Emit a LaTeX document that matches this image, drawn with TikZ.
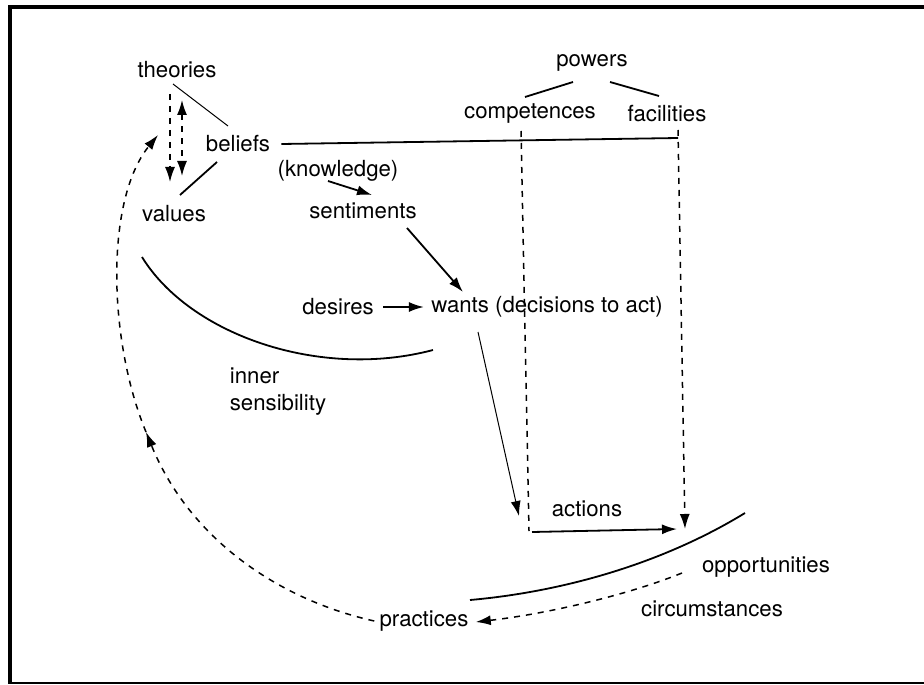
\documentclass[tikz,border=0pt]{standalone}
\usepackage{fontspec}
\setmainfont{TeX Gyre Heros}
\usepackage{tikz}
\usetikzlibrary{shapes,arrows,arrows.meta,calc}
\tikzstyle{word} = [inner sep=0pt, font=\fontsize{11.1}{13.5}\selectfont]
\tikzstyle{link} = [line width=0.9pt]
\tikzstyle{thinlink} = [line width=0.5pt]
\tikzstyle{dashlink} = [line width=0.75pt, dash pattern=on 3pt off 3pt]

\begin{document}
\begin{tikzpicture}[x=0.5pt, y=-0.5pt, >={Latex[length=7.5pt,width=5pt]}]
		\useasboundingbox (0,0) rectangle (924,684);
		% frame
		\draw [line width=2pt] (924,7) -- (10,7) -- (10,684);
		\draw [line width=0.7pt] (10,683) -- (924,683);

		\node [word] (theories) at (177,70) {theories};
		\node [word] (beliefs) at (238,144) {beliefs};
		\node [word] (values) at (174,214) {values};
		\node [word] (knowledge) at (338,171) {(knowledge)};
		\node [word] (sentiments) at (363,211) {sentiments};
		\node [word] (desires) at (338,307) {desires};
		\node [word] (wants) at (547,307) {wants (decisions to act)};
		\node [word, align=left] (inner) at (278,392) {inner\\sensibility};
		\node [word] (powers) at (592,63) {powers};
		\node [word] (competences) at (530,114) {competences};
		\node [word, right of=competences, node distance=68.5pt] (facilities) {facilities};
		\node [word] (actions) at (587,509) {actions};
		\node [word] (opportunities) at (766,567) {opportunities};
		\node [word] (circumstances) at (712,609) {circumstances};
		\node [word] (practices) at (424,621) {practices};
		\coordinate (turn) at (146,432);
		\coordinate (back) at (158,135);

		% theories, beliefs, values
		\draw [thinlink] ($(theories)+(-4,14)$) -- ($(beliefs)+(-10,-18)$);
		\draw [link] ($(beliefs)+(-21,18)$) -- ($(values)+(6,-19)$);
		\draw [dashlink, ->] ($(theories)+(-7,24)$) -- ($(values)+(-4,-32)$);
		\draw [dashlink, <->] ($(theories)+(5,30)$) -- ($(values)+(8,-38)$);
		\draw [link] ($(beliefs.east)+(11,0)$) -- ($(facilities)+(11,24)$);

		% powers
		\draw [link] ($(powers)+(-19,19)$) -- ($(competences)+(-5,-17)$);
		\draw [link] ($(powers)+(18,19)$) -- ($(facilities)+(-8,-18)$);
		\draw [dashlink] ($(competences)+(-9,17)$) -- ($(actions)+(-58,22)$);
		\draw [dashlink, ->] ($(facilities)+(11,16)$) -- ($(facilities)+(18,415)$);

		% towards action
		\draw [link, ->] ($(knowledge)+(-10,10)$) -- ($(sentiments)+(9,-16)$);
		\draw [link, ->] ($(sentiments)+(44,17)$) -- ($(wants)+(-84,-15)$);
		\draw [link, ->] ($(desires.east)+(9,0)$) -- ($(wants.west)+(-7,0)$);
		\draw [thinlink, ->] ($(wants)+(-69,25)$) -- ($(actions)+(-68,7)$);
		\draw [link, ->] ($(actions)+(-55,23)$) -- ($(actions)+(90,20)$);

		% arcs
		\draw [link] (142,257) .. controls (190,335) and (320,380) .. (433,350);
		\draw [link] (470,600) .. controls (560,592) and (660,565) .. (745,513);

		% feedback
		\draw [dashlink, ->] ($(opportunities)+(-84,6)$) .. controls (625,596) and (545,614) .. ($(practices.east)+(7,1)$);
		\draw [dashlink, ->] ($(practices.west)+(-5,0)$) .. controls (280,600) and (190,540) .. (turn);
		\draw [dashlink, ->] (turn) .. controls (108,340) and (105,200) .. (back);
\end{tikzpicture}
\end{document}
